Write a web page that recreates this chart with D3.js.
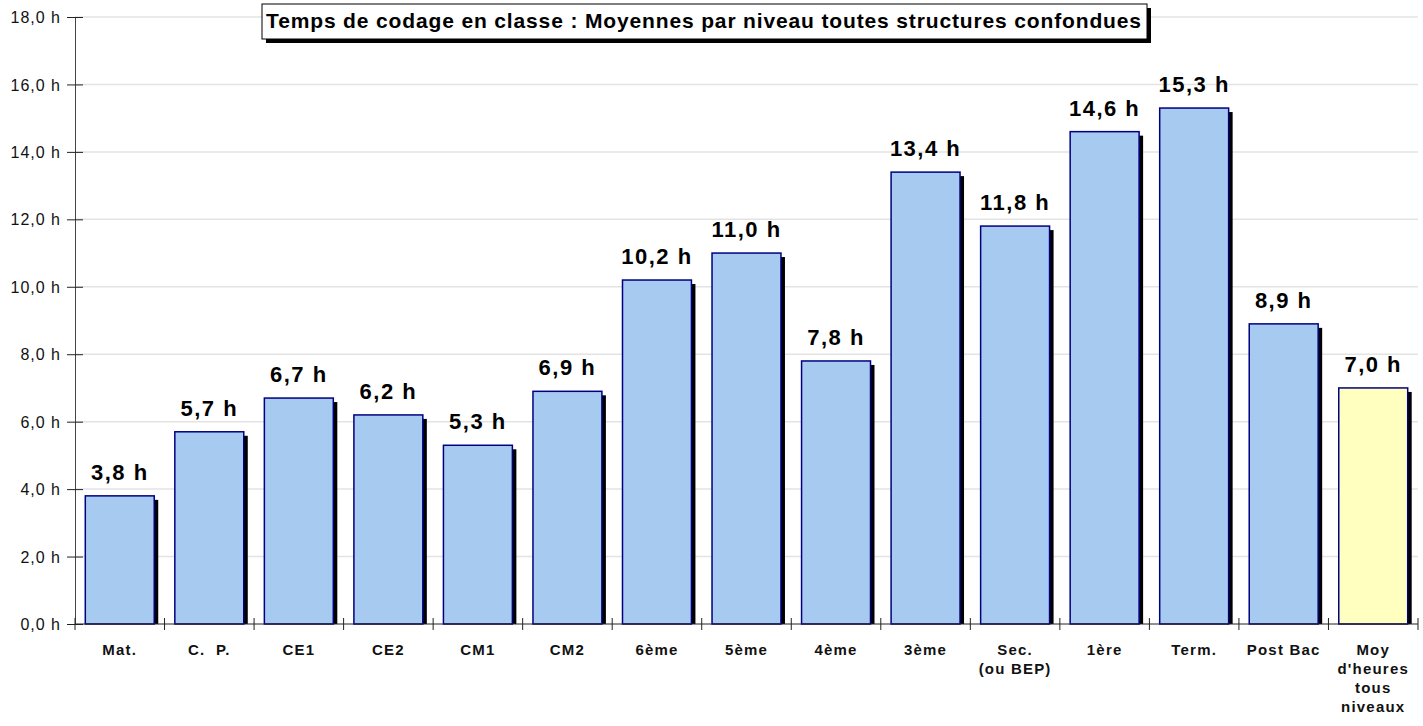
<!DOCTYPE html>
<html lang="fr">
<head>
    <meta charset="UTF-8">
    <title>Temps de codage en classe</title>
    <style>
        body { margin: 0; background: #fff; }
        text { font-family: "Liberation Sans", Arial, sans-serif; }
    </style>
</head>
<body>
    <script src="https://cdnjs.cloudflare.com/ajax/libs/d3/7.8.5/d3.min.js"></script>
    <script>
        // niveaux (lignes multiples séparées par |)
        const niveaux = ['Mat.', 'C.  P.', 'CE1', 'CE2', 'CM1', 'CM2', '6ème', '5ème', '4ème', '3ème',
                         'Sec.|(ou BEP)', '1ère', 'Term.', 'Post Bac', "Moy|d'heures|tous|niveaux"];
        const heures = [3.8, 5.7, 6.7, 6.2, 5.3, 6.9, 10.2, 11.0, 7.8, 13.4, 11.8, 14.6, 15.3, 8.9, 7.0];
        const yTicks = [0, 2, 4, 6, 8, 10, 12, 14, 16, 18];
        const titre = 'Temps de codage en classe : Moyennes par niveau toutes structures confondues';

        const width = 1423, height = 726;
        const margin = {top: 17, left: 75, right: 5, bottom: 102};

        const svg = d3.select('body').append('svg')
            .attr('width', width)
            .attr('height', height);

        const x = d3.scaleBand()
            .domain(niveaux)
            .range([margin.left, width - margin.right])
            .paddingInner(0.23)
            .paddingOuter(0.115);

        const y = d3.scaleLinear()
            .domain([0, 18])
            .range([height - margin.bottom, margin.top]);

        const fmt = v => d3.format('.1f')(v).replace('.', ',') + ' h';
        const data = niveaux.map((n, i) => ({niveau: n, h: heures[i], moy: i === niveaux.length - 1}));

        // grille
        svg.append('g').selectAll('line').data(yTicks.filter(d => d > 0)).enter().append('line')
            .attr('x1', margin.left).attr('x2', width - margin.right)
            .attr('y1', d => y(d)).attr('y2', d => y(d))
            .attr('stroke', '#e3e3e3').attr('stroke-width', 1.5);

        // axe y
        const yAxis = d3.axisLeft(y)
            .tickValues(yTicks)
            .tickSize(8)
            .tickFormat(fmt);
        const gy = svg.append('g')
            .attr('transform', `translate(${margin.left},0)`)
            .call(yAxis);
        gy.attr('font-size', null).attr('font-family', null);
        gy.select('.domain').attr('stroke', '#444');
        gy.selectAll('.tick line').attr('stroke', '#222').attr('x2', 8).attr('x1', -8);
        gy.selectAll('.tick text')
            .attr('x', -14)
            .attr('dy', '0.35em')
            .style('font-size', '16px')
            .style('letter-spacing', '1px')
            .attr('fill', '#111');

        // ombres puis barres
        const step = x.step();
        const bars = svg.append('g');
        bars.selectAll('rect.ombre').data(data).enter().append('rect')
            .attr('class', 'ombre')
            .attr('x', d => x(d.niveau) + 4)
            .attr('y', d => y(d.h) + 4)
            .attr('width', x.bandwidth())
            .attr('height', d => y(0) - y(d.h) - 4)
            .attr('fill', '#000');
        bars.selectAll('rect.barre').data(data).enter().append('rect')
            .attr('class', 'barre')
            .attr('x', d => x(d.niveau))
            .attr('y', d => y(d.h))
            .attr('width', x.bandwidth())
            .attr('height', d => y(0) - y(d.h))
            .attr('fill', d => d.moy ? '#ffffc0' : '#a6caf0')
            .attr('stroke', '#000080')
            .attr('stroke-width', 1.5);

        // étiquettes de valeur
        svg.append('g').selectAll('text').data(data).enter().append('text')
            .attr('x', d => x(d.niveau) + x.bandwidth() / 2)
            .attr('y', d => y(d.h) - 16)
            .attr('text-anchor', 'middle')
            .style('font-size', '22px')
            .style('letter-spacing', '1.5px')
            .attr('font-weight', 'bold')
            .attr('fill', '#000')
            .text(d => fmt(d.h));

        // axe x
        const y0 = y(0);
        svg.append('line')
            .attr('x1', margin.left).attr('x2', width - margin.right)
            .attr('y1', y0).attr('y2', y0)
            .attr('stroke', '#222');
        const bornes = d3.range(niveaux.length + 1).map(i => margin.left + i * step);
        svg.append('g').selectAll('line').data(bornes).enter().append('line')
            .attr('x1', d => d).attr('x2', d => d)
            .attr('y1', y0 - 6).attr('y2', y0 + 6)
            .attr('stroke', '#222');

        const labels = svg.append('g').selectAll('text').data(data).enter().append('text')
            .attr('y', y0 + 31)
            .attr('text-anchor', 'middle')
            .style('font-size', '15px')
            .style('letter-spacing', '1.2px')
            .style('white-space', 'pre')
            .attr('font-weight', 'bold')
            .attr('fill', '#111');
        labels.each(function(d) {
            const lignes = d.niveau.split('|');
            d3.select(this).selectAll('tspan').data(lignes).enter().append('tspan')
                .attr('x', x(d.niveau) + x.bandwidth() / 2)
                .attr('dy', (l, i) => i === 0 ? 0 : 19)
                .text(l => l);
        });

        // titre encadré
        const tg = svg.append('g');
        tg.append('rect')
            .attr('x', 262 + 4).attr('y', 4 + 4)
            .attr('width', 885).attr('height', 35)
            .attr('fill', '#000');
        tg.append('rect')
            .attr('x', 262).attr('y', 4)
            .attr('width', 885).attr('height', 35)
            .attr('fill', '#fff')
            .attr('stroke', '#000')
            .attr('stroke-width', 1);
        tg.append('text')
            .attr('x', 266)
            .attr('y', 28)
            .attr('textLength', 875)
            .attr('lengthAdjust', 'spacing')
            .style('font-size', '21px')
            .attr('font-weight', 'bold')
            .attr('fill', '#000')
            .text(titre);
    </script>
</body>
</html>
